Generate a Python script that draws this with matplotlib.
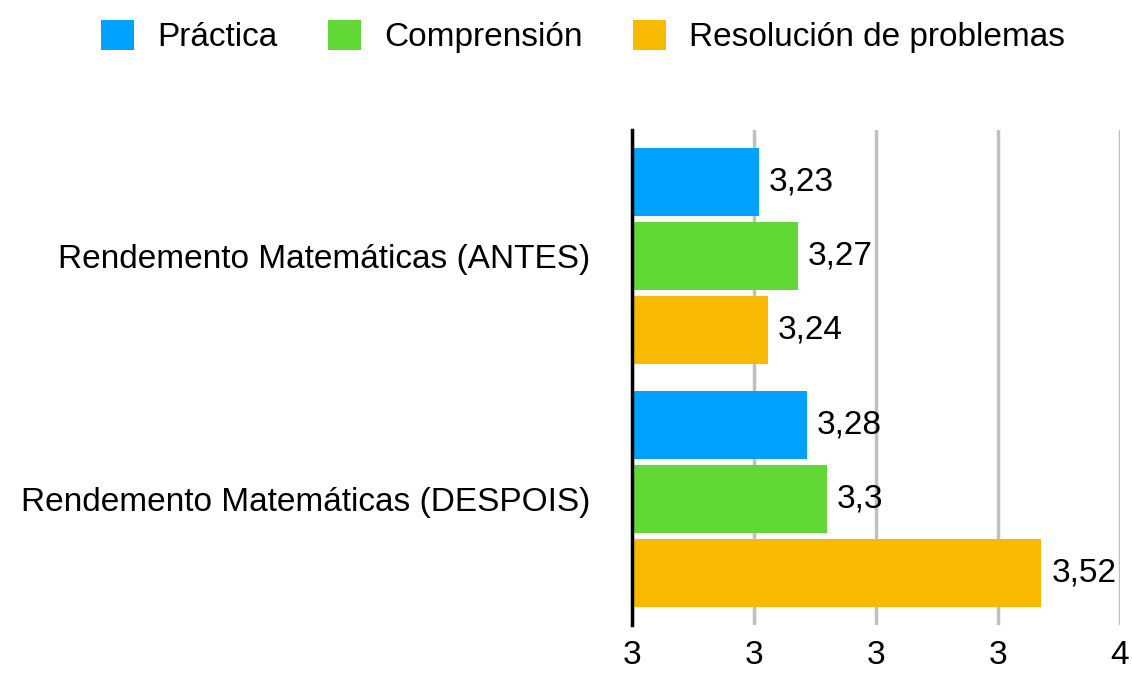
import numpy as np
import matplotlib
matplotlib.use('Agg')
import matplotlib.pyplot as plt
from matplotlib.ticker import FuncFormatter

plt.rcParams['font.family'] = ['Liberation Sans', 'DejaVu Sans']

groups = ['Rendemento Matemáticas (ANTES)', 'Rendemento Matemáticas (DESPOIS)']
series = ['Práctica', 'Comprensión', 'Resolución de problemas']
values = [[3.23, 3.28],   # Práctica
          [3.27, 3.3],    # Comprensión
          [3.24, 3.52]]   # Resolución de problemas
colors = ['#00A2FF', '#61D836', '#F8BA00']
x_ticks = [3.1, 3.225, 3.35, 3.475, 3.6]

fs = 24
fig = plt.figure(figsize=(11.32, 6.73), dpi=100)
ax = fig.add_axes([0.558, 0.0713, 0.431, 0.736])

y = np.arange(len(groups))
step = 0.305
h = 0.28
for i, (name, vals) in enumerate(zip(series, values)):
    pos = y + (i - 1) * step
    ax.barh(pos, vals, height=h, color=colors[i], label=name, zorder=3)
    for p, v in zip(pos, vals):
        ax.annotate(f"{v:g}".replace('.', ','), (v, p), xytext=(7, 0),
                    textcoords='offset points', va='center', ha='left',
                    fontsize=fs, zorder=4)

ax.set_xlim(3.1, 3.6)
ax.set_ylim(1.52, -0.52)
ax.set_xticks(x_ticks)
ax.xaxis.set_major_formatter(FuncFormatter(lambda v, _: f"{v:.0f}"))
ax.set_yticks(y)
ax.set_yticklabels(groups)
ax.tick_params(axis='both', length=0, labelsize=fs)
ax.tick_params(axis='y', pad=30)
ax.tick_params(axis='x', pad=11)
ax.grid(axis='x', color='#c0c0c0', linewidth=2.5, zorder=0)
for s in ['top', 'right', 'bottom']:
    ax.spines[s].set_visible(False)
ax.spines['left'].set_linewidth(2.5)
ax.spines['left'].set_zorder(5)

fig.legend(loc='upper center', bbox_to_anchor=(0.515, 1.015), ncol=3, frameon=False,
           fontsize=fs, handlelength=1.0, handleheight=1.0, columnspacing=1.5,
           handletextpad=0.7)

fig.savefig('out.png', dpi=100)
